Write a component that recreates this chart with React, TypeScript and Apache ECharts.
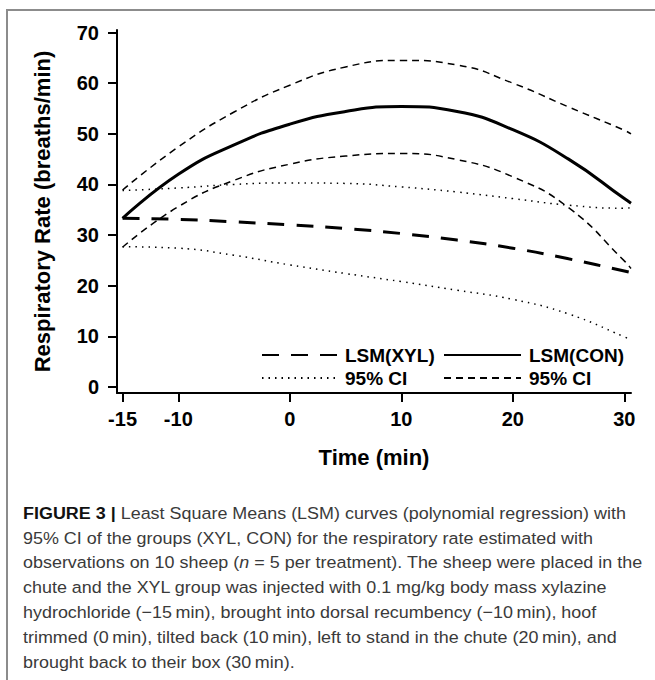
import React, { useEffect, useRef } from "react";
import * as echarts from "echarts";

const FONT = '"Liberation Sans", Arial, Helvetica, sans-serif';

// Time points (min) at which curves were read
const time = [-15, -10, -5, 0, 5, 10, 15, 20, 25, 30, 30.6];
// LSM curves
const conMean = [33.3, 42.0, 47.8, 51.9, 54.4, 55.4, 54.4, 50.8, 45.0, 37.2, 36.3];
const xylMean = [33.3, 33.1, 32.6, 32.0, 31.3, 30.3, 29.0, 27.4, 25.3, 22.9, 22.6];
// 95% CI bounds
const conUpper = [38.9, 47.4, 54.3, 59.6, 63.2, 64.5, 63.6, 60.0, 55.3, 50.7, 50.0];
const conLower = [27.6, 35.6, 40.8, 44.0, 45.6, 46.1, 44.9, 41.5, 35.4, 24.9, 23.4];
const xylUpper = [38.8, 39.3, 40.0, 40.3, 40.2, 39.5, 38.5, 37.2, 35.9, 35.3, 35.4];
const xylLower = [27.7, 27.4, 26.0, 24.1, 22.4, 20.8, 19.1, 17.3, 14.4, 9.9, 9.2];

const xTicks = [-15, -10, 0, 10, 20, 30];
const yTicks = [0, 10, 20, 30, 40, 50, 60, 70];

const captionLines = [
  "{b|FIGURE 3 |} Least Square Means (LSM) curves (polynomial regression) with",
  "95% CI of the groups (XYL, CON) for the respiratory rate estimated with",
  "observations on 10 sheep ({i|n} = 5 per treatment). The sheep were placed in the",
  "chute and the XYL group was injected with 0.1 mg/kg body mass xylazine",
  "hydrochloride (\u221215\u2009min), brought into dorsal recumbency (\u221210\u2009min), hoof",
  "trimmed (0\u2009min), tilted back (10\u2009min), left to stand in the chute (20\u2009min), and",
  "brought back to their box (30\u2009min).",
];

export default function App() {
  const ref = useRef<HTMLDivElement>(null);
  useEffect(() => {
    if (!ref.current) return;
    const chart = echarts.init(ref.current, null, { renderer: "svg" });
    const mk = (name: string, ys: number[], width: number, type: any) => ({
      type: "line",
      name,
      data: time.map((t, i) => [t, ys[i]]),
      smooth: true,
      symbol: "circle",
      symbolSize: 0,
      showSymbol: false,
      lineStyle: { color: "#000", width, type, cap: "butt" },
      itemStyle: { color: "rgba(0,0,0,0)", borderWidth: 0 },
    });
    const legendText = {
      fontSize: 19,
      fontWeight: "bold",
      color: "#000",
      fontFamily: FONT,
      lineHeight: 20,
      padding: [0, 0, 0, 3],
    };
    const fmt = (n: string) => (n.endsWith("CI") ? "95% CI" : n);
    const legendBase = {
      orient: "vertical",
      top: 345,
      padding: 0,
      itemHeight: 14,
      itemGap: 3,
      selectedMode: false,
      formatter: fmt,
      textStyle: legendText,
      itemStyle: { color: "rgba(0,0,0,0)", borderWidth: 0, opacity: 0 },
    };
    const option: any = {
      animation: false,
      textStyle: { fontFamily: FONT },
      grid: { left: 117, right: 24, top: 30, bottom: 287, containLabel: false },
      xAxis: {
        type: "value",
        min: -15.5,
        max: 30.6,
        name: "Time (min)",
        nameLocation: "middle",
        nameGap: 53,
        nameTextStyle: { fontSize: 22, fontWeight: "bold", color: "#000", fontFamily: FONT },
        axisLine: { show: true, onZero: false, lineStyle: { color: "#000", width: 2 } },
        axisTick: { show: true, customValues: xTicks, length: 9, lineStyle: { color: "#000", width: 2 } },
        axisLabel: { customValues: xTicks, fontSize: 20, fontWeight: "bold", color: "#000", margin: 16, fontFamily: FONT },
        splitLine: { show: false },
      },
      yAxis: {
        type: "value",
        min: -1.2,
        max: 70.5,
        name: "Respiratory Rate (breaths/min)",
        nameLocation: "middle",
        nameGap: 64,
        nameTextStyle: { fontSize: 22, fontWeight: "bold", color: "#000", fontFamily: FONT },
        axisLine: { show: true, onZero: false, lineStyle: { color: "#000", width: 2 } },
        axisTick: { show: true, customValues: yTicks, length: 9, lineStyle: { color: "#000", width: 2 } },
        axisLabel: { customValues: yTicks, fontSize: 20, fontWeight: "bold", color: "#000", margin: 18, fontFamily: FONT },
        splitLine: { show: false },
      },
      legend: [
        { ...legendBase, data: ["LSM(XYL)", "XYL CI"], left: 261, itemWidth: 75 },
        { ...legendBase, data: ["LSM(CON)", "CON CI"], left: 443, itemWidth: 77 },
      ],
      series: [
        mk("LSM(XYL)", xylMean, 3, [17, 12]),
        mk("LSM(CON)", conMean, 3, "solid"),
        mk("XYL CI", xylUpper, 1.5, [1.5, 5]),
        mk("XYL CI", xylLower, 1.5, [1.5, 5]),
        mk("CON CI", conUpper, 1.5, [7, 5]),
        mk("CON CI", conLower, 1.5, [7, 5]),
      ],
      graphic: [
        {
          type: "rect",
          silent: true,
          shape: { x: 7, y: 10, width: 720, height: 720 },
          style: { fill: "none", stroke: "#8c8c8c", lineWidth: 2 },
        },
        ...captionLines.map((line, i) => ({
          type: "text",
          silent: true,
          x: 23,
          y: 513 + i * 24.8,
          scaleX: 1.055,
          style: {
            text: line,
            fontSize: 17,
            fontFamily: FONT,
            fill: "#3a3a3a",
            verticalAlign: "middle",
            rich: {
              b: { fontSize: 17, fontWeight: "bold", fontFamily: FONT, fill: "#111" },
              i: { fontSize: 17, fontStyle: "italic", fontFamily: FONT, fill: "#3a3a3a" },
            },
          },
        })),
      ],
    };
    chart.setOption(option);
    return () => chart.dispose();
  }, []);
  return (
    <div
      ref={ref}
      style={{ position: "fixed", left: 0, top: 0, width: 655, height: 680, background: "#fff" }}
    />
  );
}
